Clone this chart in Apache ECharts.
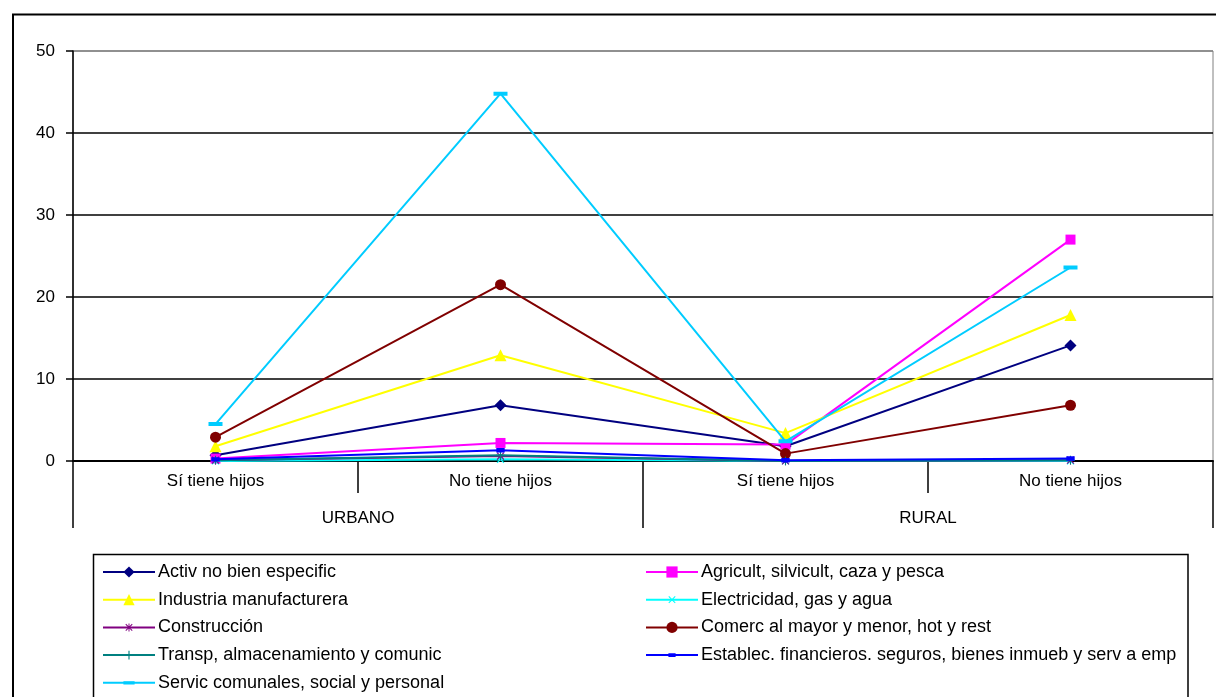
<!DOCTYPE html>
<html>
<head>
<meta charset="utf-8">
<script src="https://cdn.jsdelivr.net/npm/echarts@6/dist/echarts.min.js"></script>
<style>
html,body{margin:0;padding:0;background:#fff;}
#chart{width:1216px;height:697px;}
</style>
</head>
<body>
<div id="chart"></div>
<script>
// ---- data ----
var categories = ['Sí tiene hijos', 'No tiene hijos', 'Sí tiene hijos', 'No tiene hijos'];
var groups = ['URBANO', 'RURAL'];
var yTicks = [0, 10, 20, 30, 40, 50];

var activNoBienEspecific = [0.7, 6.8, 1.8, 14.1];
var agricultSilvicult = [0.3, 2.2, 2.0, 27.0];
var industriaManufacturera = [1.8, 12.9, 3.4, 17.8];
var electricidadGasAgua = [0.0, 0.2, 0.0, 0.0];
var construccion = [0.1, 0.6, 0.0, 0.1];
var comercMayorMenor = [2.9, 21.5, 0.9, 6.8];
var transpAlmacenamiento = [0.1, 0.7, 0.0, 0.1];
var establecFinancieros = [0.2, 1.3, 0.1, 0.3];
var servicComunales = [4.5, 44.8, 2.4, 23.6];

var seriesNames = [
  'Activ no bien especific',
  'Agricult, silvicult, caza y pesca',
  'Industria manufacturera',
  'Electricidad, gas y agua',
  'Construcción',
  'Comerc al mayor y menor, hot y rest',
  'Transp, almacenamiento y comunic',
  'Establec. financieros. seguros, bienes inmueb y serv a emp',
  'Servic comunales, social y personal'
];
var seriesValues = [activNoBienEspecific, agricultSilvicult, industriaManufacturera, electricidadGasAgua,
  construccion, comercMayorMenor, transpAlmacenamiento, establecFinancieros, servicComunales];

// ---- styles ----
// invisible corner points keep a square bounding box so shapes keep their proportions
var BOX = 'M0,0 L0.01,0 Z M14,14 L13.99,14 Z ';
var X_PATH = 'path://' + BOX + 'M2.5,3.4 L3.4,2.5 L7,6.1 L10.6,2.5 L11.5,3.4 L7.9,7 L11.5,10.6 L10.6,11.5 L7,7.9 L3.4,11.5 L2.5,10.6 L6.1,7 Z';
var PLUS_PATH = 'path://' + BOX + 'M6.3,1.5 H7.7 V6.3 H12.5 V7.7 H7.7 V12.5 H6.3 V7.7 H1.5 V6.3 H6.3 Z';
var AST_PATH = 'path://' + BOX + 'M2.5,3.4 L3.4,2.5 L7,6.1 L10.6,2.5 L11.5,3.4 L7.9,7 L11.5,10.6 L10.6,11.5 L7,7.9 L3.4,11.5 L2.5,10.6 L6.1,7 Z M6.4,2 H7.6 V12 H6.4 Z';
var DASH_PATH = 'path://' + BOX + 'M0,5 H14 V9 H0 Z';
var SMALL_DASH_PATH = 'path://' + BOX + 'M2.5,4.6 H11.5 V9.4 H2.5 Z';
var styles = [
  {color: '#000080', symbol: 'diamond', size: 12},
  {color: '#FF00FF', symbol: 'rect', size: 10},
  {color: '#FFFF00', symbol: 'triangle', size: 12},
  {color: '#00FFFF', symbol: X_PATH, size: 12},
  {color: '#800080', symbol: AST_PATH, size: 12},
  {color: '#800000', symbol: 'circle', size: 11},
  {color: '#008080', symbol: PLUS_PATH, size: 11},
  {color: '#0000FF', symbol: SMALL_DASH_PATH, size: 13},
  {color: '#00CCFF', symbol: DASH_PATH, size: 14}
];

var FONT = '"Liberation Sans", Arial, sans-serif';

var series = seriesNames.map(function (name, i) {
  var s = styles[i];
  return {
    name: name,
    type: 'line',
    xAxisIndex: 0,
    data: seriesValues[i],
    symbol: s.symbol,
    symbolSize: s.size,
    showAllSymbol: true,
    color: s.color,
    lineStyle: {color: s.color, width: 2},
    itemStyle: {color: s.color, borderWidth: 0, opacity: 1},
    emphasis: {disabled: true},
    animation: false,
    z: 3 + i
  };
});

var leftLegend = [seriesNames[0], seriesNames[2], seriesNames[4], seriesNames[6], seriesNames[8]];
var rightLegend = [seriesNames[1], seriesNames[3], seriesNames[5], seriesNames[7]];

var legendCommon = {
  orient: 'vertical',
  top: 563,
  height: 140,
  itemWidth: 52,
  itemHeight: 14,
  itemGap: 9.7,
  selectedMode: false,
  textStyle: {fontFamily: FONT, fontSize: 18, color: '#000', padding: [0, 0, 0, -2]},
  padding: 0
};

var chart = echarts.init(document.getElementById('chart'), null, {renderer: 'canvas'});
chart.setOption({
  animation: false,
  backgroundColor: '#fff',
  textStyle: {fontFamily: FONT},
  grid: {left: 73, right: 3, top: 51, bottom: 236, show: true, borderColor: '#808080', borderWidth: 1, backgroundColor: 'transparent'},
  xAxis: [
    {
      type: 'category',
      data: categories,
      boundaryGap: true,
      axisLine: {lineStyle: {color: '#000', width: 2}},
      axisTick: {show: true, length: 32, lineStyle: {color: '#000', width: 1.5}},
      axisLabel: {color: '#000', fontSize: 17, fontFamily: FONT, margin: 12},
      splitLine: {show: false}
    },
    {
      type: 'category',
      data: groups,
      position: 'bottom',
      boundaryGap: true,
      axisLine: {show: false},
      axisTick: {show: true, length: 67, lineStyle: {color: '#000', width: 1.5}},
      axisLabel: {color: '#000', fontSize: 17, fontFamily: FONT, margin: 49},
      splitLine: {show: false}
    }
  ],
  yAxis: {
    type: 'value',
    min: 0,
    max: 50,
    interval: 10,
    axisLine: {show: true, lineStyle: {color: '#000', width: 1.5}},
    axisTick: {show: true, length: 7, lineStyle: {color: '#000', width: 1.5}},
    axisLabel: {color: '#000', fontSize: 17, fontFamily: FONT, margin: 18,
      formatter: function (v) { return yTicks.indexOf(v) >= 0 ? String(v) : ''; }},
    splitLine: {show: true, lineStyle: {color: ['#000', '#000', '#000', '#000', '#000', '#808080'], width: 1.5}}
  },
  legend: [
    Object.assign({}, legendCommon, {left: 102, data: leftLegend}),
    Object.assign({}, legendCommon, {left: 645, data: rightLegend})
  ],
  graphic: [
    {type: 'rect', z: 100, silent: true,
      shape: {x: 13, y: 14.5, width: 1220, height: 700},
      style: {fill: 'none', stroke: '#000', lineWidth: 2}},
    {type: 'rect', z: 100, silent: true,
      shape: {x: 93.5, y: 554.5, width: 1094.5, height: 160},
      style: {fill: 'none', stroke: '#000', lineWidth: 1.5}}
  ],
  series: series
});
</script>
</body>
</html>
